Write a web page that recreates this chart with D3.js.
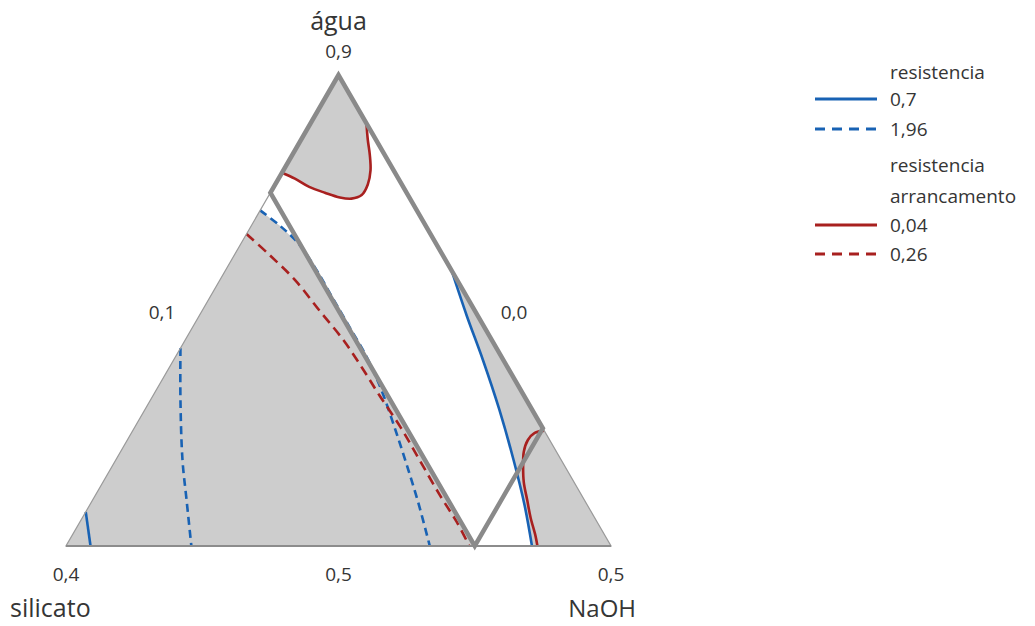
<!DOCTYPE html>
<html lang="pt">
<head>
<meta charset="utf-8">
<script src="https://cdnjs.cloudflare.com/ajax/libs/d3/7.8.5/d3.min.js"></script>
<style>
    body { margin: 0; background: #fff; }
    svg text { font-family: 'Open Sans', 'Noto Sans', sans-serif; fill: #353535; }
</style>
</head>
<body>
<svg id="chart"></svg>
<script>
// composicoes [agua, silicato, NaOH]
const vertices = [[0.9, 0.0, 0.1], [0.5, 0.4, 0.1], [0.5, 0.0, 0.5]]
const restricao = [[0.9, 0.0, 0.1], [0.8, 0.1, 0.1], [0.5, 0.1, 0.4], [0.6, 0.0, 0.4]]

// resistencia = 0,7
const res07a = [[0.529, 0.371, 0.100], [0.500, 0.382, 0.118]]
const res07b = [[0.734, 0.000, 0.266], [0.696, 0.008, 0.296], [0.658, 0.015, 0.327], [0.616, 0.024, 0.360],
    [0.573, 0.035, 0.392], [0.535, 0.046, 0.419], [0.500, 0.058, 0.442]]
// resistencia = 1,96
const res196a = [[0.668, 0.232, 0.100], [0.624, 0.254, 0.122], [0.573, 0.278, 0.149], [0.539, 0.292, 0.169],
    [0.500, 0.308, 0.192]]
const res196b = [[0.785, 0.115, 0.100], [0.772, 0.107, 0.121], [0.757, 0.101, 0.142], [0.736, 0.099, 0.165],
    [0.711, 0.099, 0.190], [0.685, 0.099, 0.216], [0.662, 0.099, 0.239], [0.634, 0.102, 0.264],
    [0.603, 0.108, 0.289], [0.571, 0.115, 0.314], [0.537, 0.123, 0.340], [0.500, 0.133, 0.367]]
// resistencia arrancamento = 0,04
const arr004a = [[0.817, 0.083, 0.100], [0.812, 0.076, 0.112], [0.805, 0.069, 0.126], [0.800, 0.060, 0.140],
    [0.796, 0.051, 0.153], [0.795, 0.043, 0.162], [0.798, 0.034, 0.168], [0.807, 0.025, 0.168],
    [0.819, 0.017, 0.164], [0.832, 0.011, 0.157], [0.845, 0.006, 0.149], [0.859, 0.000, 0.141]]
const arr004b = [[0.598, 0.000, 0.402], [0.596, 0.008, 0.396], [0.590, 0.016, 0.394], [0.580, 0.024, 0.396],
    [0.567, 0.031, 0.402], [0.554, 0.037, 0.409], [0.539, 0.042, 0.419], [0.524, 0.047, 0.429],
    [0.509, 0.051, 0.440], [0.500, 0.054, 0.446]]
// resistencia arrancamento = 0,26
const arr026 = [[0.765, 0.135, 0.100], [0.747, 0.127, 0.126], [0.726, 0.119, 0.155], [0.700, 0.113, 0.186],
    [0.675, 0.109, 0.216], [0.651, 0.107, 0.242], [0.628, 0.106, 0.266], [0.601, 0.104, 0.295],
    [0.573, 0.104, 0.323], [0.543, 0.104, 0.353], [0.520, 0.103, 0.377], [0.500, 0.104, 0.396]]

const legendItems = [
    { head: 'resistencia', y: 73 },
    { label: '0,7', color: '#1862b4', dash: null, y: 99 },
    { label: '1,96', color: '#1862b4', dash: '10,7', y: 129 },
    { head: 'resistencia', y: 166 },
    { head: 'arrancamento', y: 197 },
    { label: '0,04', color: '#a8201f', dash: null, y: 225 },
    { label: '0,26', color: '#a8201f', dash: '10,7', y: 254 }
]

const w = 1035, h = 626
const svg = d3.select('#chart').attr('width', w).attr('height', h)

// pseudo-componentes
const aguaS = d3.scaleLinear().domain([0.5, 0.9]).range([0, 1])
const naohS = d3.scaleLinear().domain([0.1, 0.5]).range([0, 1])
const xScale = d3.scaleLinear().domain([0, 1]).range([66, 611])
const yScale = d3.scaleLinear().domain([0, 1]).range([546, 75])
const px = d => xScale(naohS(d[2]) + aguaS(d[0]) / 2)
const py = d => yScale(aguaS(d[0]))

const poly = d3.line().x(px).y(py)
const curve = d3.line().x(px).y(py).curve(d3.curveCatmullRom)

svg.append('path').attr('d', poly(vertices) + 'Z').attr('fill', '#cdcdcd')

const branca = [].concat(res196b.slice(0, 4), [restricao[2]], res07b.slice().reverse(), arr004a.slice().reverse())
svg.append('path').attr('d', poly(branca) + 'Z').attr('fill', '#fff')

const linhas = [
    [res07a, '#1862b4', null], [res07b, '#1862b4', null],
    [res196a, '#1862b4', '8,5'], [res196b, '#1862b4', '8,5'],
    [arr004a, '#a8201f', null], [arr004b, '#a8201f', null],
    [arr026, '#a8201f', '10,6']
]
linhas.forEach(l => {
    svg.append('path').attr('d', curve(l[0]))
        .attr('fill', 'none').attr('stroke', l[1]).attr('stroke-width', 2.6)
        .attr('stroke-dasharray', l[2])
})

svg.append('path').attr('d', poly(vertices) + 'Z')
    .attr('fill', 'none').attr('stroke', '#9a9a9a').attr('stroke-width', 1.2)
svg.append('path').attr('d', poly([vertices[1], vertices[2]]))
    .attr('fill', 'none').attr('stroke', '#8c8c8c').attr('stroke-width', 2)

svg.append('path').attr('d', poly(restricao) + 'Z')
    .attr('fill', 'none').attr('stroke', '#8a8a8a').attr('stroke-width', 4.5)
    .attr('stroke-linejoin', 'miter')

// rotulos dos eixos
const apex = vertices[0]
svg.append('text').attr('x', px(apex)).attr('y', 30).attr('text-anchor', 'middle')
    .attr('font-size', 25).text('água')
svg.append('text').attr('x', px(apex)).attr('y', 58).attr('text-anchor', 'middle')
    .attr('font-size', 19).text('0,9')
svg.append('text').attr('x', px(vertices[1])).attr('y', 581).attr('text-anchor', 'middle')
    .attr('font-size', 19).text('0,4')
svg.append('text').attr('x', (px(vertices[1]) + px(vertices[2])) / 2).attr('y', 581).attr('text-anchor', 'middle')
    .attr('font-size', 19).text('0,5')
svg.append('text').attr('x', px(vertices[2])).attr('y', 581).attr('text-anchor', 'middle')
    .attr('font-size', 19).text('0,5')
svg.append('text').attr('x', 162).attr('y', 319).attr('text-anchor', 'middle')
    .attr('font-size', 19).text('0,1')
svg.append('text').attr('x', 514).attr('y', 319).attr('text-anchor', 'middle')
    .attr('font-size', 19).text('0,0')
svg.append('text').attr('x', 10).attr('y', 617)
    .attr('font-size', 25).text('silicato')
svg.append('text').attr('x', 636).attr('y', 617).attr('text-anchor', 'end')
    .attr('font-size', 24).text('NaOH')

// legenda
const lg = svg.append('g')
legendItems.forEach(it => {
    if (it.head) {
        lg.append('text').attr('x', 890).attr('y', it.y + 6).attr('font-size', 19).text(it.head)
    } else {
        lg.append('line').attr('x1', 815).attr('x2', 877).attr('y1', it.y).attr('y2', it.y)
            .attr('stroke', it.color).attr('stroke-width', 3).attr('stroke-dasharray', it.dash)
        lg.append('text').attr('x', 890).attr('y', it.y + 7).attr('font-size', 19).text(it.label)
    }
})
</script>
</body>
</html>
